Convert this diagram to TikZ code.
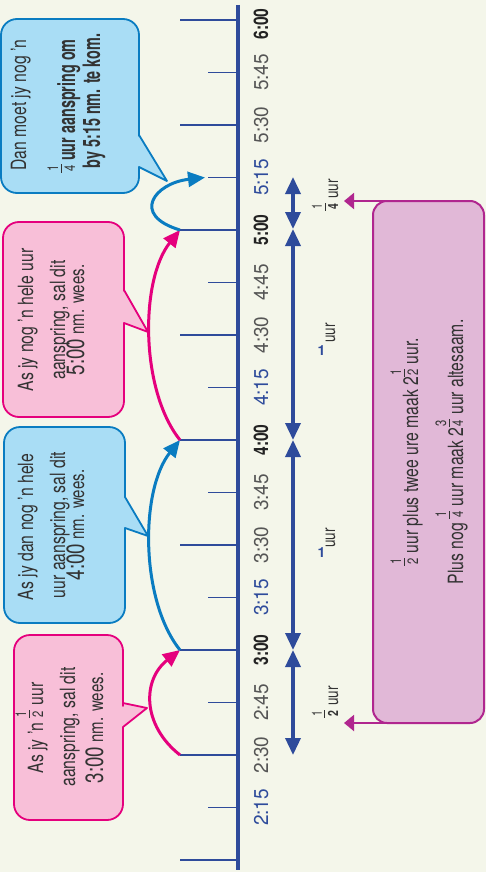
\documentclass[tikz,border=0pt]{standalone}
\usepackage{fontspec}
\setmainfont{TeX Gyre Heros}
\newfontfamily\bubfont{TeX Gyre Heros}[FakeStretch=0.75]
\newfontfamily\bbfont{TeX Gyre Heros}[FakeStretch=0.6]
\newfontfamily\axfont{TeX Gyre Heros}[FakeStretch=0.95]
\newfontfamily\axbfont{TeX Gyre Heros}[FakeStretch=0.78]
\usetikzlibrary{arrows.meta}
\definecolor{bgc}{HTML}{F4F6EA}
\definecolor{axisc}{HTML}{2E4B9B}
\definecolor{pinkc}{HTML}{E5007D}
\definecolor{bluec}{HTML}{0A7CC1}
\definecolor{pinkfill}{HTML}{F8BFD8}
\definecolor{bluefill}{HTML}{A9DDF5}
\definecolor{boxfill}{HTML}{E1B8D7}
\definecolor{boxdraw}{HTML}{B0268F}
\definecolor{txtc}{HTML}{333333}
\definecolor{grayc}{HTML}{555555}
\definecolor{blackc}{HTML}{222222}
\newcommand\ufr[3][15]{{\fontsize{#1}{#1}\selectfont\vbox{\offinterlineskip\halign{\hfil\kern1pt##\kern1pt\hfil\cr\vphantom{0}#2\cr\noalign{\kern2.5pt\hrule height 0.9pt\kern2.5pt}\vphantom{0}#3\cr}}}}
\newcommand\bbf{\bbfont\bfseries\fontsize{24}{24}\selectfont}
\newcommand\bigd{\fontsize{25}{25}\selectfont}
\newcommand\smd{\fontsize{20}{20}\selectfont}
\tikzset{
 bluebub/.style={draw=bluec, fill=bluefill, line width=1.8pt, line join=round},
 pinkbub/.style={draw=pinkc, fill=pinkfill, line width=1.8pt, line join=round},
 axisline/.style={draw=axisc, line width=3.2pt},
 tickline/.style={draw=axisc, line width=1.6pt},
 rot/.style={rotate=90, anchor=base, inner sep=0pt},
 btxt/.style={rot, text=txtc, font=\bubfont\fontsize{21}{21}\selectfont},
 ltxt/.style={rot, text=txtc, font=\bubfont\fontsize{18}{18}\selectfont},
 axg/.style={rot, text=grayc, font=\axfont\fontsize{20}{20}\selectfont},
 axu/.style={rot, text=axisc, font=\axfont\fontsize{20}{20}\selectfont},
 axb/.style={rot, text=blackc, font=\axbfont\bfseries\fontsize{20}{20}\selectfont},
 parr/.style={draw=pinkc, line width=3pt, -{Triangle[width=15pt,length=17pt]}},
 barr/.style={draw=bluec, line width=3pt, -{Triangle[width=15pt,length=17pt]}},
 dbl/.style={draw=axisc, line width=3.5pt, {Triangle[width=15pt,length=17pt]}-{Triangle[width=15pt,length=17pt]}},
 sumbox/.style={draw=boxdraw, fill=boxfill, line width=2pt, rounded corners=14pt, minimum width=111pt, minimum height=522pt, inner sep=0pt, outer sep=0pt},
 boxarr/.style={draw=boxdraw, line width=2pt, -{Triangle[width=16pt,length=10pt]}},
 onestyle/.style={inner sep=0pt, text=axisc, font=\bfseries\fontsize{14}{14}\selectfont},
}
\begin{document}
\begin{tikzpicture}[x=1pt,y=-1pt]
\useasboundingbox (0,0) rectangle (486,872);
\fill[bgc] (0,0) rectangle (486,872);
% speech bubbles
\draw[bluebub] (1,100) [rounded corners=16pt] -- (1,19) -- (139,19) -- (139,120) [sharp corners] -- (139,135) -- (167,181) -- (139,167) -- (139,178) [rounded corners=16pt] -- (139,193) -- (1,193) -- cycle;
\draw[pinkbub] (3,320) [rounded corners=16pt] -- (3,222) -- (124,222) -- (124,275) [sharp corners] -- (124,290) -- (148,332) -- (124,323) -- (124,340) [rounded corners=16pt] -- (124,417) -- (3,417) -- cycle;
\draw[bluebub] (4,525) [rounded corners=16pt] -- (4,427) -- (125,427) -- (125,480) [sharp corners] -- (125,497) -- (148,536) -- (125,528) -- (125,545) [rounded corners=16pt] -- (125,623) -- (4,623) -- cycle;
\draw[pinkbub] (14,728) [rounded corners=16pt] -- (14,635) -- (123,635) -- (123,690) [sharp corners] -- (123,703) -- (147,708) -- (123,727) -- (123,740) [rounded corners=16pt] -- (123,820) -- (14,820) -- cycle;
% summary box
\node[sumbox] (sum) at (428.5,462) {};
\coordinate (pa1) at (344,201);
\coordinate (pa2) at (344,723);
\draw[boxarr] ([xshift=16pt]sum.north west) -- (pa1);
\draw[boxarr] ([xshift=16pt]sum.south west) -- (pa2);
% number line
\foreach \k in {0,...,16}{\coordinate (t\k) at (238,{20+52.5*\k});}
\foreach \k in {0,2,...,16}{\draw[tickline] (t\k) -- ++(-58,0) coordinate (L\k);}
\foreach \k in {1,3,...,15}{\draw[tickline] (t\k) -- ++(-30,0) coordinate (L\k);}
\coordinate (atop) at (238,5);
\coordinate (abot) at (238,870);
\draw[axisline] (atop) -- (abot);
% axis labels
\node[axb] (lab0) at (268,24) {6:00};
\node[axg] (lab1) at ([xshift=30pt]t1) {5:45};
\node[axg] (lab2) at ([xshift=30pt]t2) {5:30};
\node[axu] (lab3) at ([xshift=30pt]t3) {5:15};
\node[axb] (lab4) at ([xshift=30pt]t4) {5:00};
\node[axg] (lab5) at ([xshift=30pt]t5) {4:45};
\node[axg] (lab6) at ([xshift=30pt]t6) {4:30};
\node[axu] (lab7) at ([xshift=30pt]t7) {4:15};
\node[axb] (lab8) at ([xshift=30pt]t8) {4:00};
\node[axg] (lab9) at ([xshift=30pt]t9) {3:45};
\node[axg] (lab10) at ([xshift=30pt]t10) {3:30};
\node[axu] (lab11) at ([xshift=30pt]t11) {3:15};
\node[axb] (lab12) at ([xshift=30pt]t12) {3:00};
\node[axg] (lab13) at ([xshift=30pt]t13) {2:45};
\node[axg] (lab14) at ([xshift=30pt]t14) {2:30};
\node[axu] (lab15) at ([xshift=30pt]t15) {2:15};
% measuring arrows
\coordinate (m3) at (293,177);
\coordinate (m4) at (293,229);
\coordinate (m8) at (293,440);
\coordinate (m12) at (293,650);
\coordinate (m14) at (293,755);
\draw[dbl] (m3) -- (m4);
\draw[dbl] (m4) -- (m8);
\draw[dbl] (m8) -- (m12);
\draw[dbl] (m12) -- (m14);
\node[ltxt] (q1) at (338,195) {\ufr[14]{1}{\textbf{4}} uur};
\node[ltxt] (h1) at (335,333) {uur};
\node[onestyle] (one1) at (321.5,351) {1};
\node[ltxt] (h2) at (335,538) {uur};
\node[onestyle] (one2) at (321.5,553) {1};
\node[ltxt] (q2) at (338,702) {\ufr[14]{1}{\textbf{2}} uur};
% jump arrows
\draw[parr] (L14) .. controls (142,725) and (142,680) .. (L12);
\draw[barr] (L12) .. controls (140,600) and (140,490) .. (L8);
\draw[parr] (L8) .. controls (140,390) and (140,280) .. (L4);
\draw[barr] (L4) .. controls (130,215) and (155,183) .. ([xshift=-3pt]L3);
% bubble texts
\node[btxt] (a1) at (26,105) {Dan moet jy nog ’n};
\node[btxt] (a2) at (75,106) {\ufr{1}{4}\,{\bbf uur aanspring om}};
\node[btxt] (a3) at (100,101) {\bbf by 5:15 nm. te kom.};
\node[btxt] (b1) at (33,320) {As jy nog ’n hele uur};
\node[btxt] (b2) at (65,320) {aanspring, sal dit};
\node[btxt] (b3) at (84,320) {{\bigd 5:00} {\smd nm. wees.}};
\node[btxt] (c1) at (33,527) {As jy dan nog ’n hele};
\node[btxt] (c2) at (65,525) {uur aanspring, sal dit};
\node[btxt] (c3) at (84,525) {{\bigd 4:00} {\smd nm. wees.}};
\node[btxt] (d1) at (43,728) {As jy ’n \ufr{1}{2} uur};
\node[btxt] (d2) at (75,727) {aanspring, sal dit};
\node[btxt] (d3) at (103,728) {{\bigd 3:00} {\smd nm. wees.}};
% summary texts
\node[btxt] (s1) at (418,452) {\ufr{1}{2} uur plus twee ure maak 2\ufr{1}{2} uur.};
\node[btxt] (s2) at (463,452) {Plus nog \ufr{1}{4} uur maak 2\ufr{3}{4} uur altesaam.};
\end{tikzpicture}
\end{document}
